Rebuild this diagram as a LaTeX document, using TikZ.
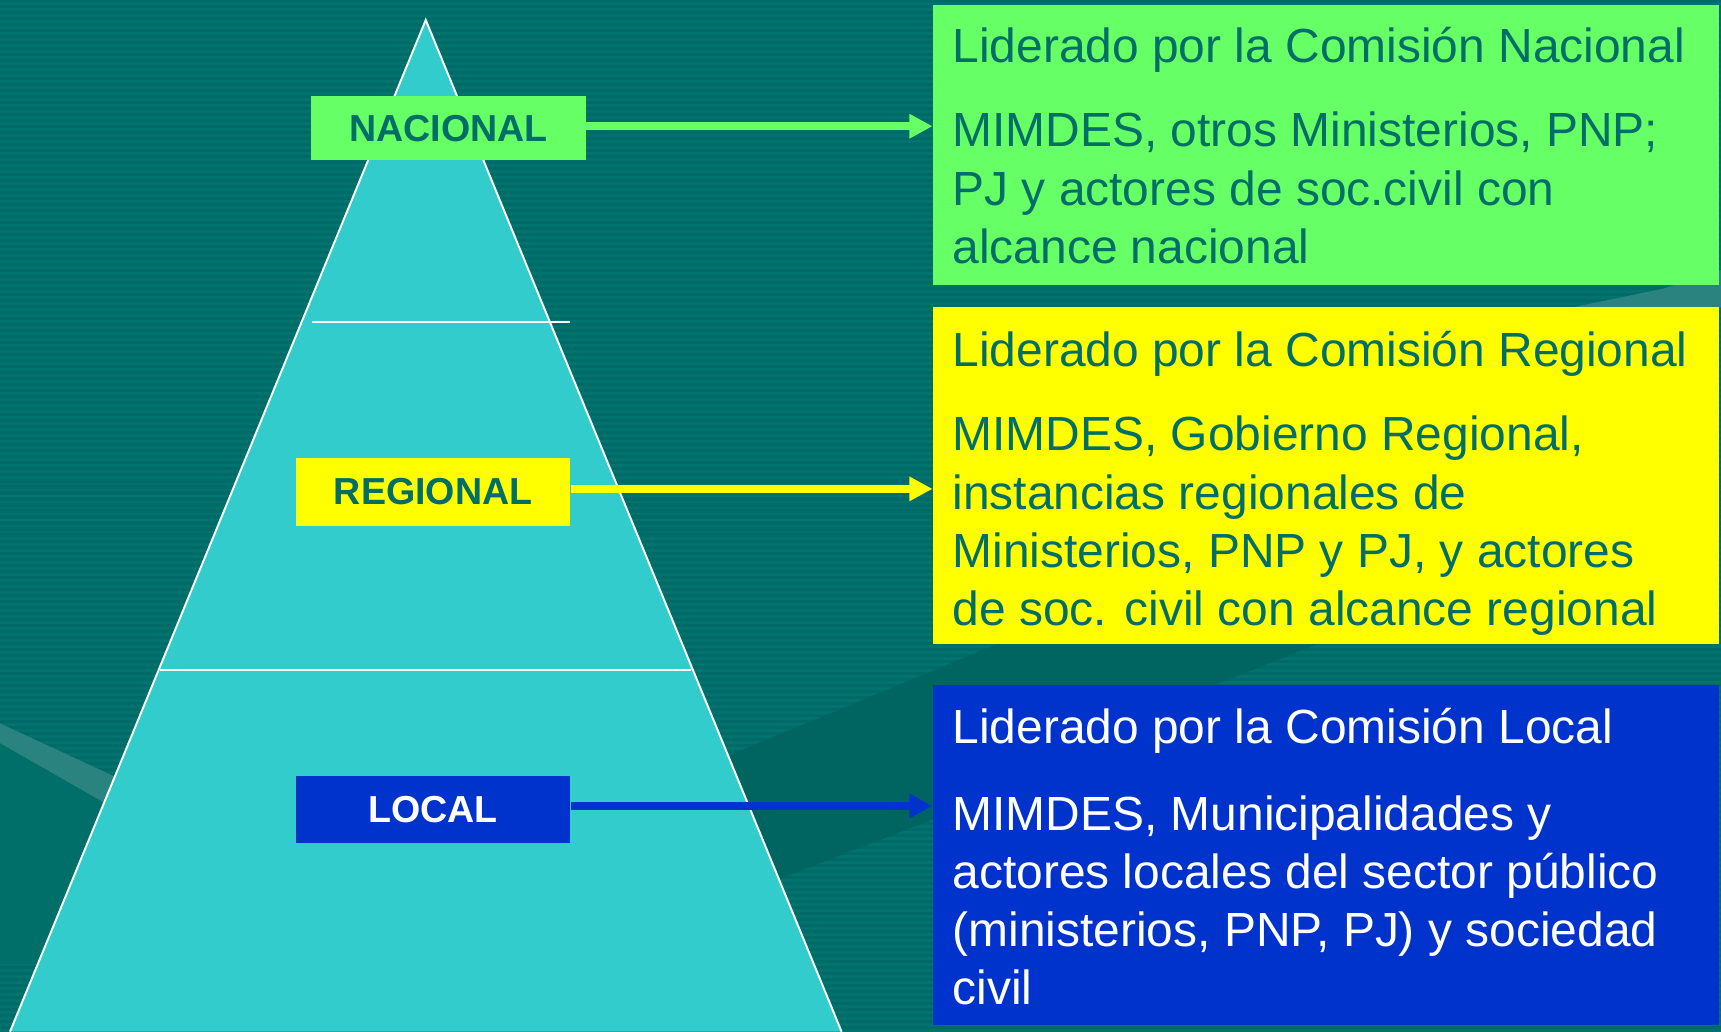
\documentclass[tikz,border=0pt]{standalone}
\usepackage{fontspec}
\setmainfont{Liberation Sans}
\usetikzlibrary{arrows.meta}
\definecolor{bgA}{HTML}{006B66}
\definecolor{bgB}{HTML}{00736E}
\definecolor{bgSolid}{HTML}{006E69}
\definecolor{bgDark}{HTML}{006560}
\definecolor{bgLight}{HTML}{2A837F}
\definecolor{pyr}{HTML}{33CCCC}
\definecolor{cgreen}{HTML}{66FF66}
\definecolor{cyellow}{HTML}{FFFF00}
\definecolor{cblue}{HTML}{0033CC}
\definecolor{tealtxt}{HTML}{006E66}
\begin{document}
\begin{tikzpicture}[x=0.02cm,y=-0.02cm,
  labelbox/.style={rectangle, inner sep=0, minimum width=5cm, font=\fontsize{19.5}{23}\selectfont\bfseries},
  infobox/.style={rectangle, inner sep=0, anchor=north west, minimum width=14.32cm},
  infotext/.style={anchor=base west, inner sep=0, align=left, font=\fontsize{24.85}{30.2}\selectfont},
  link/.style={line width=4pt, -{Triangle[length=0.42cm,width=0.42cm]}},
  pyredge/.style={white, line width=1pt}]

\useasboundingbox (0,0) rectangle (1568,940);
% background
\fill[bgA] (0,0) rectangle (1568,940);
\foreach \k in {0,...,171} {\fill[bgB] (0,{\k*5.47+2}) rectangle (1568,{\k*5.47+4.7});}
\fill[bgSolid] (0,677) -- (140,757) -- (140,878) -- (0,878) -- cycle;
\fill[bgLight] (0,659) -- (140,724) -- (140,757) -- (0,677) -- cycle;
\fill[bgDark] (600,717) -- (662,689) -- (908,587) -- (1200,587) -- (1107,624) -- (849,747) -- (707,802) -- (650,830) -- cycle;
\fill[bgLight] (1433,280) -- (1515,263) -- (1568,246) -- (1568,280) -- cycle;

% pyramid
\coordinate (apex) at (387.9,18.2);
\coordinate (bl) at (9.1,940);
\coordinate (br) at (766.8,940);
\fill[pyr] (bl) -- (apex) -- (br) -- cycle;
\draw[pyredge] (bl) -- (apex) -- (br);
\coordinate (d1a) at (284,293.7);
\coordinate (d1b) at (519,293.7);
\draw[pyredge] (d1a) -- (d1b);
\coordinate (d2a) at (145.5,610.4);
\coordinate (d2b) at (629.5,610.4);
\draw[pyredge] (d2a) -- (d2b);

% right boxes
\node[infobox, fill=cgreen, minimum height=5.1cm] (gbox) at (849.6,4.6) {};
\node[infobox, fill=cyellow, minimum height=6.146cm] (ybox) at (849.6,279.4) {};
\node[infobox, fill=cblue, minimum height=6.208cm] (bbox) at (849.6,623.5) {};

% level labels
\node[labelbox, fill=cgreen, text=tealtxt, minimum height=1.166cm] (nac) at (408.7,116.7) {NACIONAL};
\node[labelbox, fill=cyellow, text=tealtxt, minimum height=1.238cm] (reg) at (394.7,448.3) {REGIONAL};
\node[labelbox, fill=cblue, text=white, minimum height=1.222cm] (loc) at (394.7,737.3) {LOCAL};

% connectors
\draw[link, cgreen] ([yshift=0.034cm]nac.east) -- ([yshift=0.034cm]nac.east -| gbox.west);
\draw[link, cyellow] ([yshift=0.058cm]reg.east) -- ([yshift=0.058cm]reg.east -| ybox.west);
\draw[link, cblue] ([yshift=0.06cm]loc.east) -- ([yshift=0.06cm]loc.east -| bbox.west);

% texts (base anchor = baseline of the last line)
\node[infotext, text=tealtxt] (gtxt) at (867.5,239.9) {Liderado por la Comisión Nacional\\[13.6pt]MIMDES, otros Ministerios, PNP;\\PJ y actores de soc.civil con\\alcance nacional};
\node[infotext, text=tealtxt] (ytxt) at (867.5,569.9) {Liderado por la Comisión Regional\\[13.6pt]MIMDES, Gobierno Regional,\\instancias regionales de\\Ministerios, PNP y PJ, y actores\\de soc. civil con alcance regional};
\node[infotext, text=white] (btxt) at (867.5,915.5) {Liderado por la Comisión Local\\[14.5pt]MIMDES, Municipalidades y\\actores locales del sector público\\(ministerios, PNP, PJ) y sociedad\\civil};
\end{tikzpicture}
\end{document}
